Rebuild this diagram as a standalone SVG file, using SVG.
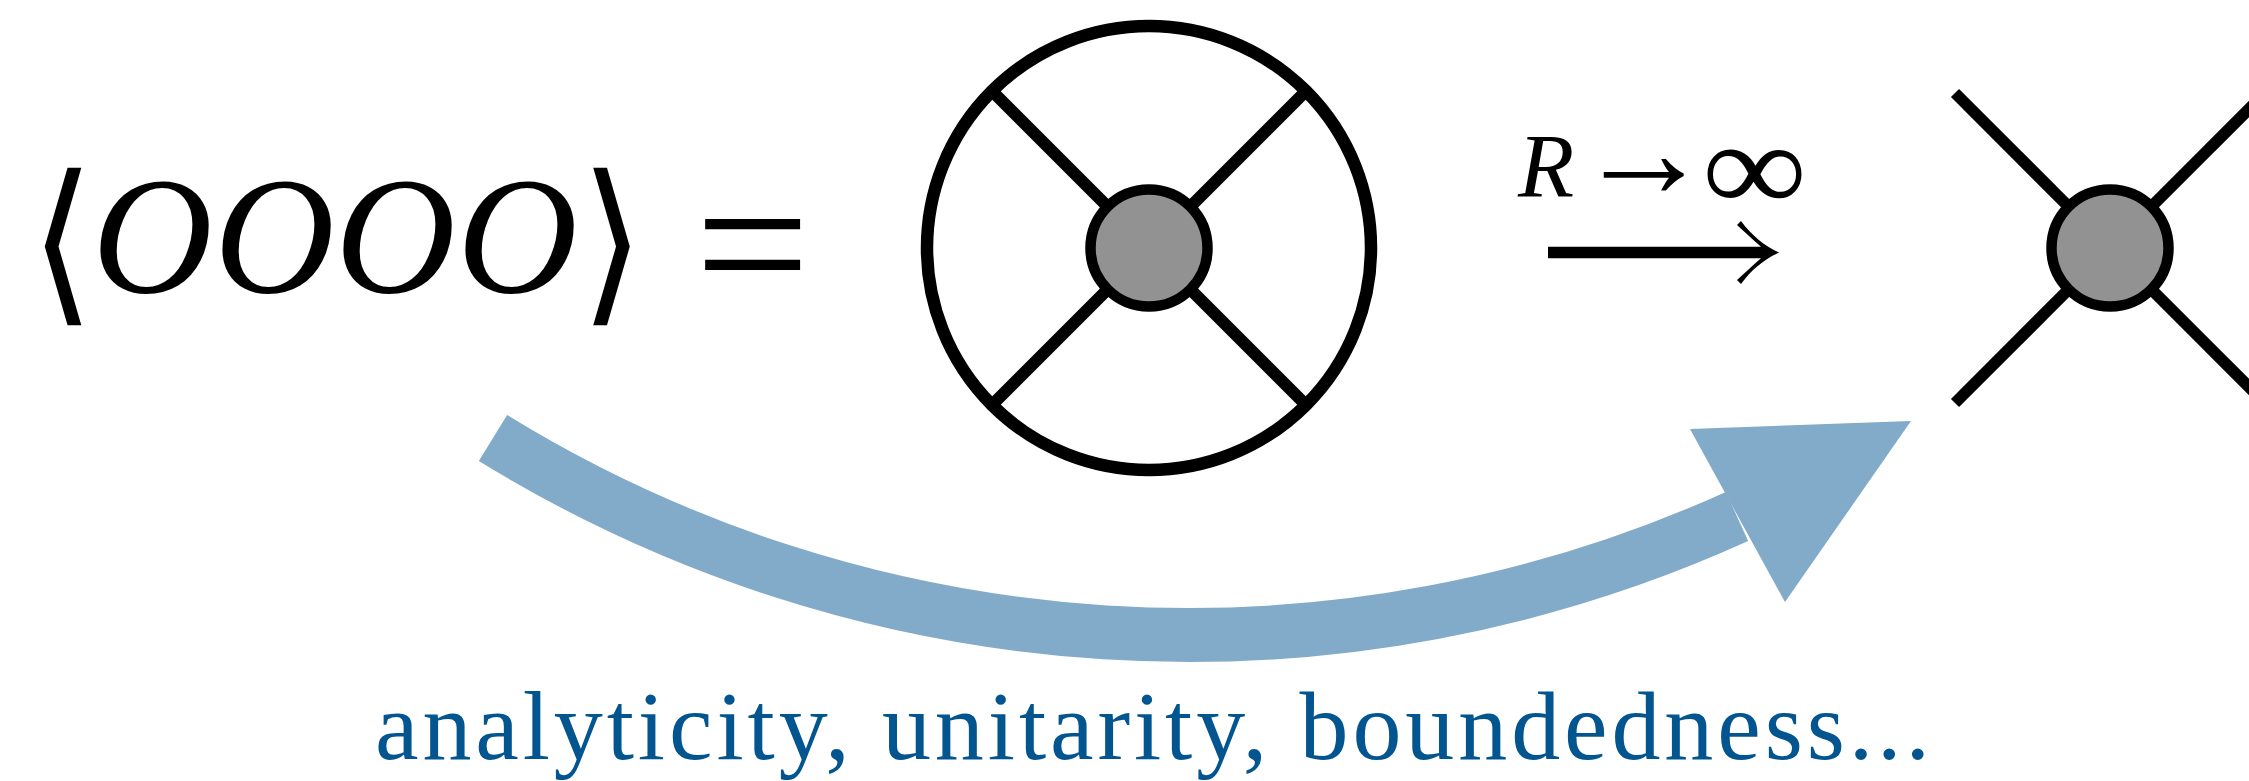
<svg xmlns="http://www.w3.org/2000/svg" width="2249" height="781" viewBox="0 0 2249 781">
<style>
.edge{stroke:#000;stroke-linecap:butt;fill:none}
.blob{fill:#929292;stroke:#000;stroke-width:10.5}
.math{font-family:"Liberation Serif","Times New Roman",serif;fill:#000}
.delim{font-family:"DejaVu Sans",sans-serif;font-weight:200;fill:#000}
.it{font-style:italic}
.note{font-family:"Liberation Serif","Times New Roman",serif;fill:#03558f}
</style>
<rect width="2249" height="781" fill="#fff"/>
<g id="lhs">
<text class="delim" transform="translate(30,302) scale(1,1.07)" font-size="165">⟨</text>
<text class="math it" x="92 214 335 457" y="292" font-size="167">OOOO</text>
<text class="delim" transform="translate(580,302) scale(1,1.07)" font-size="165">⟩</text>
<text class="math" x="695" y="312" font-size="204">=</text>
</g>
<g id="node-loop">
<circle cx="1149" cy="248" r="222" fill="none" stroke="#000" stroke-width="12.5"/>
<line class="edge" x1="992" y1="91" x2="1306" y2="405" stroke-width="12"/>
<line class="edge" x1="992" y1="405" x2="1306" y2="91" stroke-width="12"/>
<circle class="blob" cx="1149" cy="248" r="58.5"/>
</g>
<g id="node-contact">
<line class="edge" x1="1955" y1="93" x2="2265" y2="403" stroke-width="11.5"/>
<line class="edge" x1="1955" y1="403" x2="2265" y2="93" stroke-width="11.5"/>
<circle class="blob" cx="2110" cy="248" r="58.5"/>
</g>
<g id="limit-label">
<text class="math" y="197"><tspan class="it" x="1518" font-size="92">R</tspan><tspan x="1576" font-size="135">→</tspan></text>
<text class="math" transform="translate(1702,211) scale(1.15,1)" font-size="128">∞</text>
</g>
<g id="connectors">
<path d="M1548 246.7 L1761 246.7 C1753 240 1745 232 1737 225 L1741 221 C1752 236 1765 246 1779 252.5 C1765 259 1752 269 1741 284 L1737 280 C1745 273 1753 265 1761 258.3 L1548 258.3 Z" fill="#000"/>
<path d="M493 438 A1327 1327 0 0 0 1737 516.5" fill="none" stroke="#82aac9" stroke-width="54"/>
<polygon points="1690,429 1911,421 1785,602" fill="#82aac9"/>
</g>
<g id="caption">
<text class="note" x="375" y="759" font-size="98" textLength="1555" lengthAdjust="spacing">analyticity, unitarity, boundedness...</text>
</g>
</svg>
